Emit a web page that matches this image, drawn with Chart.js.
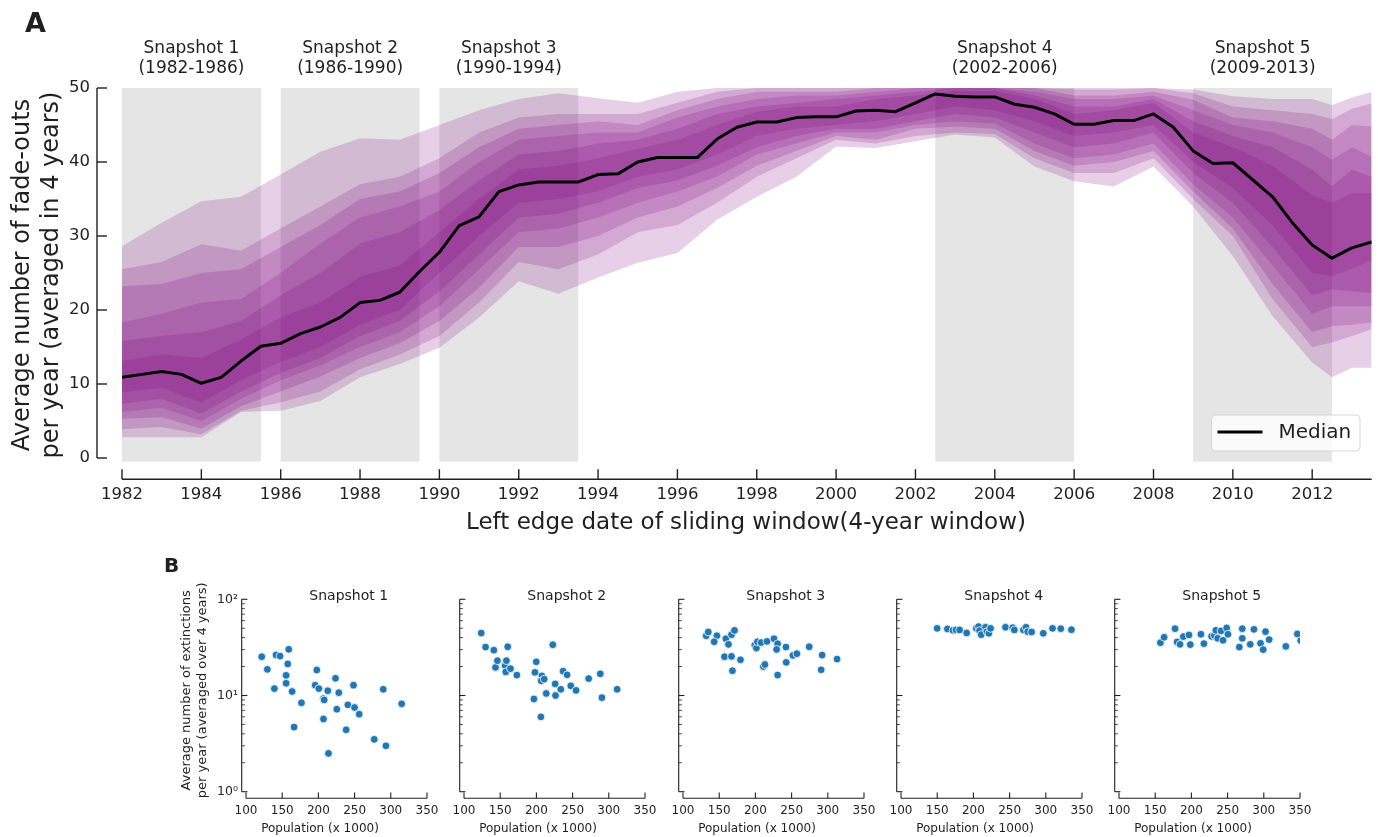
<!DOCTYPE html>
<html>
<head>
<meta charset="utf-8">
<title>Fade-outs per year</title>
<script src="https://cdn.jsdelivr.net/npm/chart.js@4.4.1/dist/chart.umd.min.js"></script>
<style>
  html, body { margin: 0; padding: 0; background: #ffffff; }
  #page { position: relative; width: 1378px; height: 837px; overflow: hidden; background: #ffffff; }
  #page canvas { position: absolute; }
</style>
</head>
<body>
<div id="page">
  <canvas id="fan" width="1378" height="540" style="left:0;top:0"></canvas>
  <canvas id="snap0" width="296" height="297"></canvas>
  <canvas id="snap1" width="296" height="297"></canvas>
  <canvas id="snap2" width="296" height="297"></canvas>
  <canvas id="snap3" width="296" height="297"></canvas>
  <canvas id="snap4" width="296" height="297"></canvas>
</div>
<script>
// ---------------- Panel A data ----------------
const medianYears = [
  1982, 1982.5, 1983, 1983.5, 1984, 1984.5, 1985, 1985.5, 1986, 1986.5,
  1987, 1987.5, 1988, 1988.5, 1989, 1989.5, 1990, 1990.5, 1991, 1991.5,
  1992, 1992.5, 1993, 1993.5, 1994, 1994.5, 1995, 1995.5, 1996, 1996.5,
  1997, 1997.5, 1998, 1998.5, 1999, 1999.5, 2000, 2000.5, 2001, 2001.5,
  2002, 2002.5, 2003, 2003.5, 2004, 2004.5, 2005, 2005.5, 2006, 2006.5,
  2007, 2007.5, 2008, 2008.5, 2009, 2009.5, 2010, 2010.5, 2011, 2011.5,
  2012, 2012.5, 2013, 2013.5
];
const medianFadeOuts = [
  10.9, 11.3, 11.7, 11.3, 10.1, 10.9, 13.1, 15.1, 15.5, 16.8,
  17.7, 19.0, 21.0, 21.3, 22.4, 25.2, 27.8, 31.4, 32.6, 36.0,
  36.9, 37.3, 37.3, 37.3, 38.3, 38.4, 40.0, 40.6, 40.6, 40.6,
  43.1, 44.7, 45.4, 45.4, 46.0, 46.1, 46.1, 46.9, 47.0, 46.8,
  48.0, 49.2, 48.9, 48.8, 48.8, 47.8, 47.4, 46.5, 45.1, 45.1,
  45.6, 45.6, 46.5, 44.7, 41.5, 39.8, 39.9, 37.6, 35.3, 31.8,
  28.8, 27.0, 28.4, 29.2
];

// window start years at which the spread bands were sampled
const bandYears = [
  1982, 1983, 1984, 1985, 1986, 1987, 1988, 1989, 1990, 1991,
  1992, 1993, 1994, 1995, 1996, 1997, 1998, 1999, 2000, 2001,
  2002, 2003, 2004, 2005, 2006, 2007, 2008, 2009, 2010, 2011,
  2012, 2012.5, 2013, 2013.5
];
// nested spread bands, widest (band1) to narrowest (band6)
const band1Top = [28.6,31.8,34.7,35.3,38.3,41.4,43.2,43.0,45.0,47.0, 48.5,49.3,48.6,48.0,49.5,50,50,50,50,50, 50,50,50,50,50,50,50,49.8,48.9,48.5, 48.5,47.7,48.7,49.5];
const band1Bot = [2.8,2.8,2.8,6.2,6.4,7.7,10.9,12.7,14.9,19.0, 23.9,22.2,24.4,26.4,27.7,32.2,35.3,38.0,42.1,41.9, 42.8,43.7,43.3,39.4,37.4,36.7,39.4,34.0,27.3,19.2, 12.9,10.9,12.2,12.2];
const band2Top = [25.5,26.5,28.9,28.0,31.0,34.0,37.0,38.0,40.5,44.0, 46.0,46.5,46.5,46.5,48.0,49.5,50,50,50,50, 50,50,50,50,49.8,49.8,50,49.3,47.5,47.0, 46.5,45.8,47.2,47.9];
const band2Bot = [3.9,4.2,3.2,6.4,7.5,9.0,12.0,14.0,16.5,21.0, 26.5,25.5,27.5,30.5,31.5,34.5,38.0,40.5,43.0,42.5, 43.5,44.0,43.8,40.5,38.5,38.5,40.5,35.0,30.0,21.5, 15.0,15.6,16.5,17.4];
const band3Top = [23.2,23.5,25.0,25.5,28.5,31.5,35.0,36.0,38.5,42.0, 44.5,45.0,45.5,45.0,47.0,48.5,49.5,49.5,49.5,50, 50,50,50,50,49.0,49.0,49.5,48.4,46.0,45.5, 44.5,43.0,45.0,44.8];
const band3Bot = [5.3,5.5,4.0,7.0,9.0,11.0,13.5,15.5,18.5,23.0, 28.5,28.5,30.0,32.5,34.0,36.5,39.5,41.5,43.5,43.0, 44.5,44.8,44.5,41.5,39.5,40.0,41.5,36.0,31.0,23.5, 17.0,17.8,18.0,18.3];
const band4Top = [18.3,19.5,21.0,21.5,25.0,29.0,32.5,34.0,36.0,40.0, 43.0,43.5,44.0,44.0,46.0,47.5,48.5,49.0,49.0,49.5, 50,50,50,49.5,48.5,48.5,49.0,47.0,45.0,44.0, 42.0,40.3,42.0,40.7];
const band4Bot = [6.2,6.8,5.0,8.0,10.5,12.5,15.0,17.0,20.5,25.5, 30.5,31.0,32.5,34.5,36.0,38.0,41.0,42.5,44.0,44.0, 45.0,45.5,45.2,42.5,40.5,41.0,42.5,37.0,32.5,26.0, 19.5,20.5,20.5,20.5];
const band5Top = [15.8,16.5,17.0,18.5,22.0,25.0,29.0,30.5,33.5,37.5, 41.0,41.5,42.5,43.0,44.5,46.5,47.5,48.0,48.5,49.0, 49.5,50,50,49.0,47.5,47.5,48.5,45.5,43.5,42.0, 39.0,36.7,39.0,38.0];
const band5Bot = [7.3,8.0,6.0,9.0,11.5,13.5,16.5,18.5,22.5,27.5, 32.5,33.0,34.5,36.5,37.5,39.5,42.0,43.5,44.5,44.5, 45.5,46.5,46.0,44.0,42.0,42.5,44.0,38.5,34.5,28.5, 22.0,22.8,22.5,22.3];
const band6Top = [13.1,14.0,13.5,16.0,19.0,21.0,24.5,26.0,30.5,35.0, 39.0,39.5,40.5,41.8,43.0,45.0,46.8,47.5,47.5,48.5, 49.0,49.6,49.6,48.5,46.5,47.0,48.0,44.0,42.0,39.5, 35.5,34.5,35.8,35.8];
const band6Bot = [8.9,9.5,7.5,10.5,13.0,15.0,18.0,20.0,25.0,30.0, 34.5,35.0,36.0,38.0,39.0,41.0,43.5,44.5,45.0,45.5, 46.5,47.5,47.0,45.5,43.5,44.0,45.0,40.0,36.5,31.5, 25.0,24.6,25.5,26.8];

const snapshotNames  = ['Snapshot 1', 'Snapshot 2', 'Snapshot 3', 'Snapshot 4', 'Snapshot 5'];
const snapshotRanges = ['(1982-1986)', '(1986-1990)', '(1990-1994)', '(2002-2006)', '(2009-2013)'];
const snapshotStart  = [1982, 1986, 1990, 2002.5, 2009];
const snapshotEnd    = [1985.5, 1989.5, 1993.5, 2006, 2012.5];

const yearTicks = [1982, 1984, 1986, 1988, 1990, 1992, 1994, 1996, 1998, 2000, 2002, 2004, 2006, 2008, 2010, 2012];
const fadeTicks = [0, 10, 20, 30, 40, 50];

// ---------------- Panel B data ----------------
const snap1Population  = [121.7,129.5,139.2,141.5,147.1,155.4,155.4,157.7,159.0,163.7,166.4,176.6,195.5,197.8,200.6,207.0,208.0,207.0,213.0,213.9,223.6,225.4,228.2,238.4,240.7,248.5,249.9,256.4,277.1,289.6,293.3,315.0];
const snap1Extinctions = [25.3,18.7,11.8,26.4,25.7,16.2,13.4,21.3,30.2,11.0,4.7,8.4,12.8,18.4,11.8,9.3,9.0,5.7,11.2,2.5,15.1,7.2,10.7,4.4,8.0,12.8,7.5,6.4,3.5,11.6,3.0,8.2];
const snap2Population  = [123.8,129.8,141.2,143.5,146.2,156.8,158.6,160.4,157.7,164.2,173.0,196.6,198.0,199.8,207.6,206.7,210.8,206.2,213.6,222.7,225.9,226.4,233.7,236.9,242.4,247.5,254.8,272.2,288.2,290.5,311.5];
const snap2Extinctions = [44.6,31.9,29.6,19.6,23.0,20.5,23.0,32.1,17.6,19.0,16.3,9.2,17.4,22.4,16.0,14.2,14.8,6.0,10.5,33.7,13.2,10.0,11.6,17.9,16.4,12.6,11.3,15.0,16.8,9.5,11.6];
const snap3Population  = [132.1,134.9,146.8,143.1,159.2,162.8,167.0,171.1,157.3,167.0,168.3,179.4,199.1,201.4,202.8,207.8,216.0,211.0,213.1,225.7,230.7,229.3,230.7,242.2,242.6,251.8,257.3,274.3,292.2,290.8,312.8];
const snap3Extinctions = [41.8,45.7,41.8,36.2,38.9,34.0,42.9,47.5,25.3,25.5,18.1,23.5,33.4,31.1,36.2,35.5,36.5,20.0,21.0,38.9,34.5,30.1,16.3,31.9,22.1,26.1,27.2,32.1,26.3,18.5,23.9];
const snap4Population  = [149.9,164.1,171.9,176.0,181.0,190.7,204.0,207.1,208.5,210.8,216.8,218.6,221.4,223.7,244.3,254.3,256.6,269.0,272.7,275.0,280.4,296.5,309.3,320.7,335.4];
const snap4Extinctions = [49.9,49.2,47.6,48.0,48.0,44.7,49.9,52.0,47.2,42.9,51.2,46.1,44.3,49.9,51.2,50.7,48.0,48.0,51.2,46.1,45.7,44.3,49.9,49.5,48.3];
const snap5Population  = [157.2,162.3,177.4,180.2,184.3,188.9,196.7,198.5,213.2,217.3,227.8,231.7,233.8,236.3,240.9,243.7,248.7,250.5,266.2,270.3,270.3,281.3,286.4,295.5,299.2,302.4,307.4,330.4,346.4,351.0];
const snap5Extinctions = [35.4,40.3,49.5,36.0,34.0,40.9,42.6,33.8,43.3,34.6,41.2,42.0,47.6,39.3,46.9,37.5,50.3,43.3,31.9,49.5,39.3,34.0,48.7,34.9,30.0,46.1,38.1,32.4,43.6,37.2];

const populationTicks   = [100, 150, 200, 250, 300, 350];
const extinctionMajor   = [1, 10, 100];
const extinctionMinor   = [2, 3, 4, 5, 6, 7, 8, 9, 20, 30, 40, 50, 60, 70, 80, 90];
const extinctionLabels  = { 1: '10\u2070', 10: '10\u00B9', 100: '10\u00B2' };

// ---------------- shared styling ----------------
const FONT = "'DejaVu Sans', 'Liberation Sans', sans-serif";
const INK = '#1f1f1f';
const BAND_FILL = 'rgba(128, 0, 128, 0.19)';
const SPAN_FILL = '#e5e5e5';
Chart.defaults.font.family = FONT;
Chart.defaults.color = INK;

const useTicks = values => scale => { scale.ticks = values.map(v => ({ value: v })); };

function strokeLine(ctx, x1, y1, x2, y2) {
  ctx.beginPath(); ctx.moveTo(x1, y1); ctx.lineTo(x2, y2); ctx.stroke();
}

// ---------------- Panel A ----------------
const bandPairs = [
  [band1Top, band1Bot], [band2Top, band2Bot], [band3Top, band3Bot],
  [band4Top, band4Bot], [band5Top, band5Bot], [band6Top, band6Bot]
];

const fanDatasets = [{
  label: 'Median',
  data: medianYears.map((yr, i) => ({ x: yr, y: medianFadeOuts[i] })),
  borderColor: '#000000', borderWidth: 3, pointRadius: 0, fill: false, tension: 0,
  borderJoinStyle: 'round'
}];
bandPairs.forEach(([top, bot]) => {
  fanDatasets.push({
    data: bandYears.map((yr, i) => ({ x: yr, y: top[i] })),
    borderColor: 'rgba(0,0,0,0)', borderWidth: 0, pointRadius: 0, tension: 0,
    fill: '+1', backgroundColor: BAND_FILL
  });
  fanDatasets.push({
    data: bandYears.map((yr, i) => ({ x: yr, y: bot[i] })),
    borderColor: 'rgba(0,0,0,0)', borderWidth: 0, pointRadius: 0, tension: 0,
    fill: false
  });
});

const fanDecor = {
  id: 'fanDecor',
  beforeDatasetsDraw(chart) {
    const { ctx, chartArea: a, scales: { x } } = chart;
    ctx.save();
    ctx.fillStyle = SPAN_FILL;
    snapshotStart.forEach((s, i) => {
      const l = x.getPixelForValue(s), r = x.getPixelForValue(snapshotEnd[i]);
      ctx.fillRect(l, a.top, r - l, a.bottom - a.top);
    });
    ctx.restore();
  },
  afterDraw(chart) {
    const { ctx, chartArea: a, scales: { x, y } } = chart;
    ctx.save();
    ctx.strokeStyle = INK;
    ctx.lineWidth = 1.4;

    // offset left spine with inward ticks
    const sx = a.left - 25;
    strokeLine(ctx, sx, y.getPixelForValue(fadeTicks[0]), sx, y.getPixelForValue(fadeTicks[fadeTicks.length - 1]));
    fadeTicks.forEach(v => { const p = y.getPixelForValue(v); strokeLine(ctx, sx, p, sx + 10, p); });

    // offset bottom spine with inward ticks
    const sy = a.bottom + 17.5;
    strokeLine(ctx, x.getPixelForValue(x.min), sy, x.getPixelForValue(x.max), sy);
    yearTicks.forEach(v => { const p = x.getPixelForValue(v); strokeLine(ctx, p, sy, p, sy - 10); });

    ctx.fillStyle = INK;
    // snapshot captions
    ctx.font = `17px ${FONT}`;
    ctx.textAlign = 'center';
    ctx.textBaseline = 'alphabetic';
    snapshotStart.forEach((s, i) => {
      const cx = x.getPixelForValue((s + snapshotEnd[i]) / 2);
      ctx.fillText(snapshotNames[i], cx, 53);
      ctx.fillText(snapshotRanges[i], cx, 73);
    });

    // axis titles
    ctx.font = `23px ${FONT}`;
    ctx.fillText('Left edge date of sliding window(4-year window)', 746, 529);
    ctx.save();
    ctx.translate(0, 275);
    ctx.rotate(-Math.PI / 2);
    ctx.font = `24px ${FONT}`;
    ctx.fillText('Average number of fade-outs', 0, 29);
    ctx.fillText('per year (averaged in 4 years)', 0, 58);
    ctx.restore();

    // panel letter
    ctx.font = `bold 27px ${FONT}`;
    ctx.textAlign = 'left';
    ctx.fillText('A', 25, 32);

    // legend
    const lx = 1211.5, ly = 415, lw = 148.5, lh = 36, r = 4;
    ctx.beginPath();
    ctx.moveTo(lx + r, ly);
    ctx.arcTo(lx + lw, ly, lx + lw, ly + lh, r);
    ctx.arcTo(lx + lw, ly + lh, lx, ly + lh, r);
    ctx.arcTo(lx, ly + lh, lx, ly, r);
    ctx.arcTo(lx, ly, lx + lw, ly, r);
    ctx.closePath();
    ctx.fillStyle = 'rgba(255,255,255,0.8)';
    ctx.fill();
    ctx.strokeStyle = '#d6d6d6';
    ctx.lineWidth = 1;
    ctx.stroke();
    ctx.strokeStyle = '#000000';
    ctx.lineWidth = 3;
    strokeLine(ctx, lx + 6, ly + 17, lx + 51, ly + 17);
    ctx.fillStyle = INK;
    ctx.font = `20px ${FONT}`;
    ctx.textBaseline = 'middle';
    ctx.fillText('Median', lx + 67, ly + 18);
    ctx.restore();
  }
};

new Chart(document.getElementById('fan'), {
  type: 'line',
  data: { datasets: fanDatasets },
  options: {
    responsive: false, animation: false, devicePixelRatio: 1, events: [],
    layout: { padding: { left: 0, top: 88, right: 6.3, bottom: 0 } },
    plugins: { legend: { display: false }, tooltip: { enabled: false }, title: { display: false } },
    scales: {
      x: {
        type: 'linear', min: 1982, max: 2013.5,
        afterBuildTicks: useTicks(yearTicks),
        afterFit: s => { s.height = 78.3; },
        grid: { display: false, drawTicks: false }, border: { display: false },
        ticks: { padding: 23, font: { size: 16.5 }, color: INK, maxRotation: 0, autoSkip: false, callback: v => String(v) }
      },
      y: {
        type: 'linear', min: -0.5, max: 50,
        afterBuildTicks: useTicks(fadeTicks),
        afterFit: s => { s.width = 122; },
        grid: { display: false, drawTicks: false }, border: { display: false },
        ticks: { padding: 32, font: { size: 16.5 }, color: INK, callback: v => String(v) }
      }
    }
  },
  plugins: [fanDecor]
});

// ---------------- Panel B ----------------
const snapshotSets = [
  [snap1Population, snap1Extinctions],
  [snap2Population, snap2Extinctions],
  [snap3Population, snap3Extinctions],
  [snap4Population, snap4Extinctions],
  [snap5Population, snap5Extinctions]
];

function scatterDecor(index) {
  return {
    id: 'scatterDecor' + index,
    afterDraw(chart) {
      const { ctx, chartArea: a, scales: { x, y } } = chart;
      ctx.save();
      ctx.strokeStyle = INK;
      ctx.lineWidth = 1.1;

      const sx = a.left - 4.3;
      strokeLine(ctx, sx, y.getPixelForValue(1), sx, y.getPixelForValue(100));
      extinctionMajor.forEach(v => { const p = y.getPixelForValue(v); strokeLine(ctx, sx, p, sx + 5.7, p); });
      ctx.lineWidth = 0.8;
      extinctionMinor.forEach(v => { const p = y.getPixelForValue(v); strokeLine(ctx, sx, p, sx + 3.2, p); });

      ctx.lineWidth = 1.1;
      const sy = a.bottom + 6.6;
      strokeLine(ctx, x.getPixelForValue(100), sy, x.getPixelForValue(350), sy);
      populationTicks.forEach(v => { const p = x.getPixelForValue(v); strokeLine(ctx, p, sy, p, sy - 5.7); });

      ctx.fillStyle = INK;
      ctx.textBaseline = 'alphabetic';
      ctx.textAlign = 'center';
      ctx.font = `14px ${FONT}`;
      ctx.fillText(snapshotNames[index], a.left + 102.7, a.top + 0.7);
      ctx.font = `12px ${FONT}`;
      ctx.fillText('Population (x 1000)', a.left + 74, a.bottom + 40.5);

      if (index === 0) {
        ctx.save();
        ctx.translate(0, a.top + 91);
        ctx.rotate(-Math.PI / 2);
        ctx.font = `13px ${FONT}`;
        ctx.fillText('Average number of extinctions', 0, a.left - 56);
        ctx.fillText('per year (averaged over 4 years)', 0, a.left - 40);
        ctx.restore();
        ctx.font = `bold 20px ${FONT}`;
        ctx.textAlign = 'left';
        ctx.fillText('B', a.left - 82, a.top - 27.3);
      }
      ctx.restore();
    }
  };
}

snapshotSets.forEach(([pop, ext], i) => {
  const canvas = document.getElementById('snap' + i);
  const axisLeft = 246 + 218.3 * i;
  canvas.style.left = (axisLeft - 90) + 'px';
  canvas.style.top = '540px';
  new Chart(canvas, {
    type: 'scatter',
    data: {
      datasets: [{
        data: pop.map((p, j) => ({ x: p, y: ext[j] })),
        backgroundColor: '#1f77b4', borderColor: '#ffffff', borderWidth: 0.8,
        pointRadius: 3.9, clip: 0
      }]
    },
    options: {
      responsive: false, animation: false, devicePixelRatio: 1, events: [],
      layout: { padding: { left: 0, top: 59.3, right: 25, bottom: 0 } },
      plugins: { legend: { display: false }, tooltip: { enabled: false } },
      scales: {
        x: {
          type: 'linear', min: 100, max: 350,
          afterBuildTicks: useTicks(populationTicks),
          afterFit: s => { s.height = 45.3; },
          grid: { display: false, drawTicks: false }, border: { display: false },
          ticks: { padding: 11.5, font: { size: 12 }, color: INK, maxRotation: 0, autoSkip: false, callback: v => String(v) }
        },
        y: {
          type: 'logarithmic', min: 1, max: 100,
          afterBuildTicks: useTicks(extinctionMajor),
          afterFit: s => { s.width = 90; },
          grid: { display: false, drawTicks: false }, border: { display: false },
          ticks: { display: i === 0, padding: 8, font: { size: 12.5 }, color: INK, callback: v => extinctionLabels[v] || '' }
        }
      }
    },
    plugins: [scatterDecor(i)]
  });
});
</script>
</body>
</html>
